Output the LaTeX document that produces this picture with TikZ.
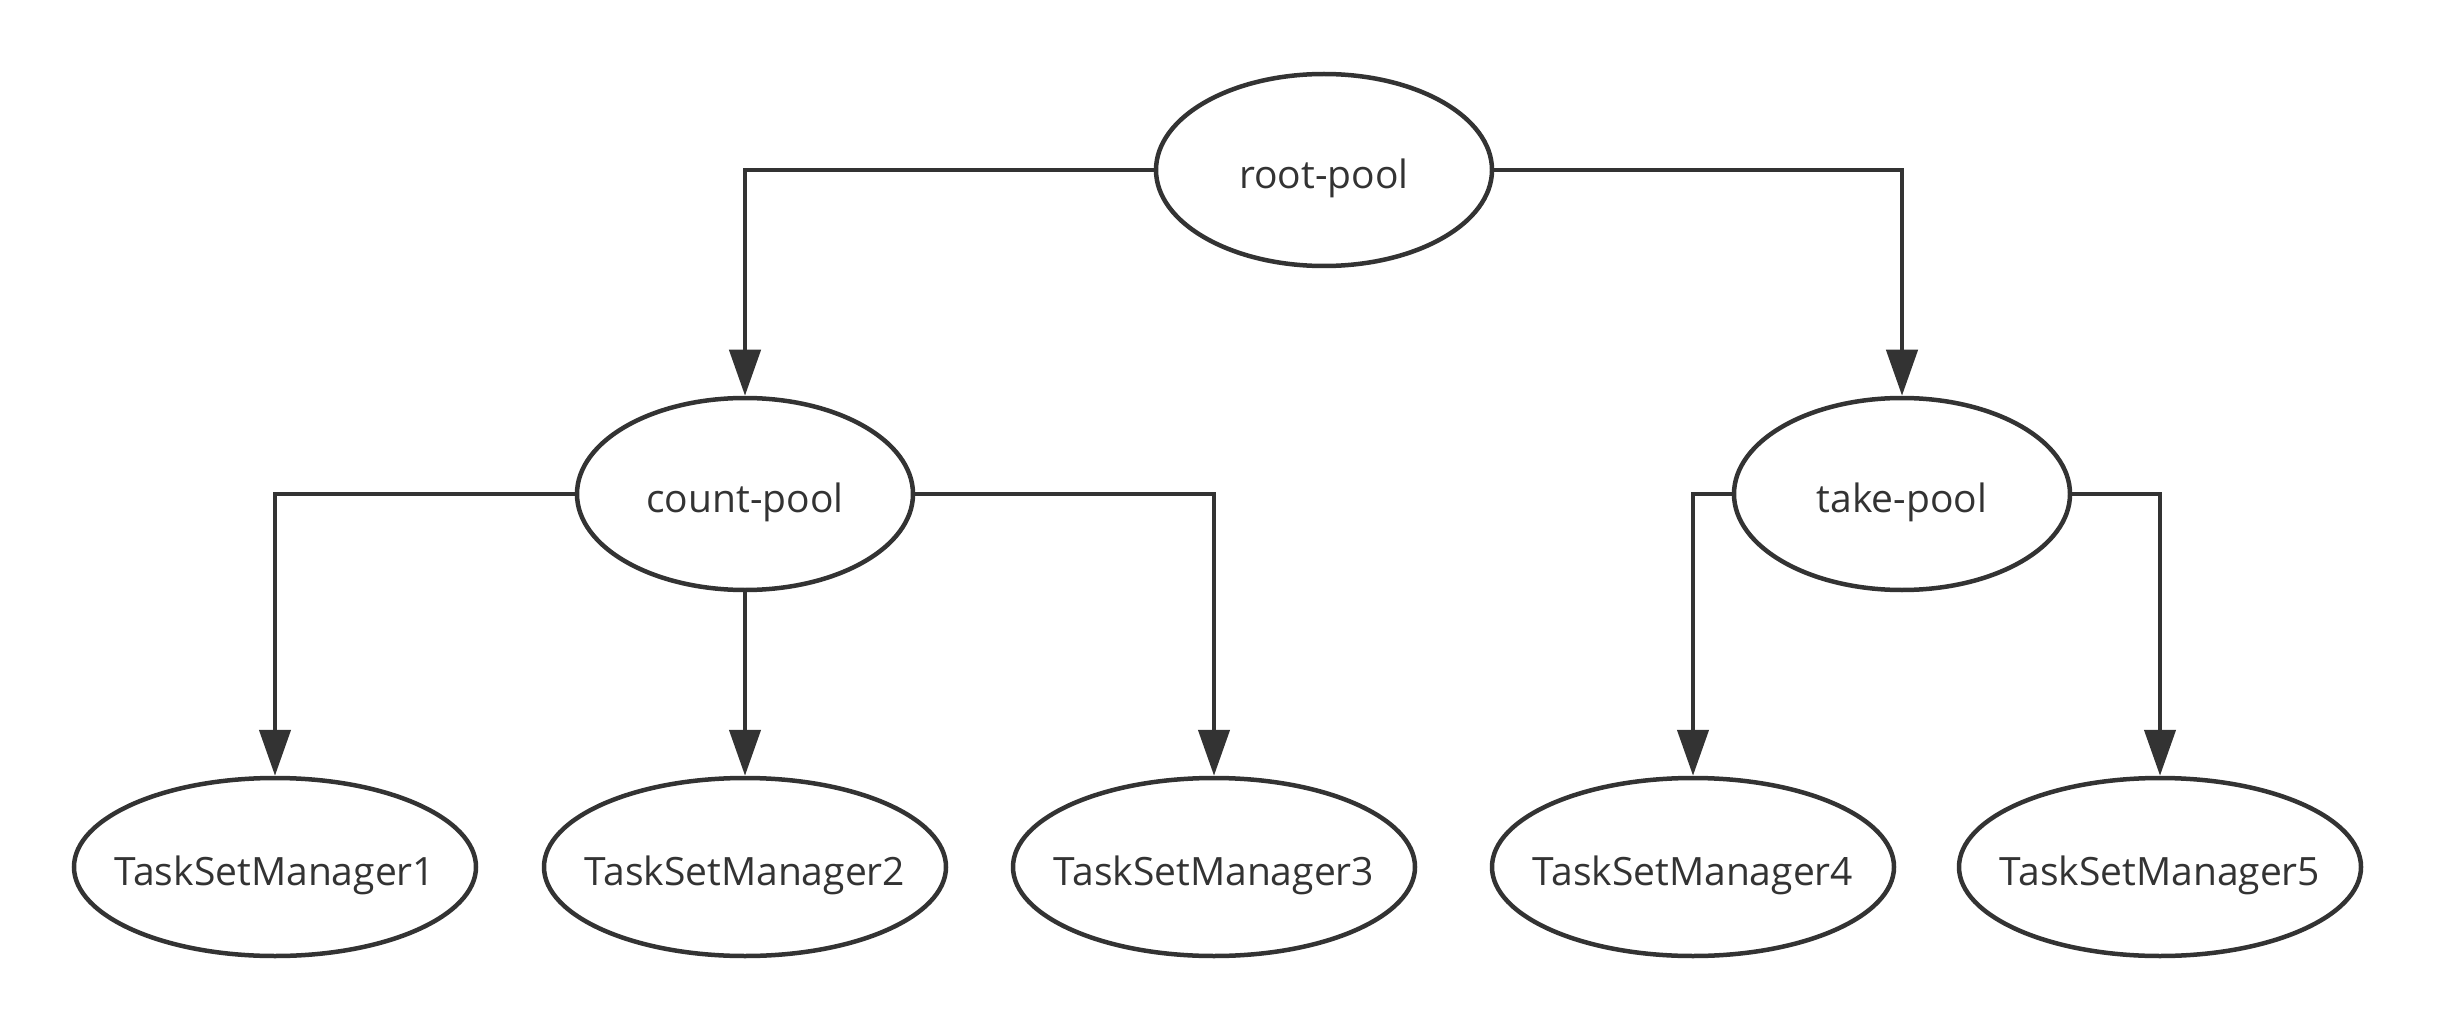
\documentclass[tikz,border=0pt]{standalone}
\usepackage{fontspec}
\setmainfont{Open Sans}
\usetikzlibrary{arrows.meta,shapes.geometric}
\definecolor{ink}{HTML}{333333}
\begin{document}
\begin{tikzpicture}[x=1pt,y=-1pt,
  lbl/.style={draw=ink,line width=4.5pt,ellipse,inner xsep=-40pt,inner ysep=0pt,text height=46pt,text depth=9pt,text=ink,font=\fontsize{39}{46}\selectfont},
  pool/.style={lbl,minimum width=336pt,minimum height=192pt},
  mgr/.style={lbl,minimum width=402pt,minimum height=178pt},
  conn/.style={draw=ink,line width=4.5pt,-{Triangle[length=46pt,width=31pt]}}]
\useasboundingbox (0,0) rectangle (2437,1032);
\node[pool] (root) at (1324,170) {root-pool};
\node[pool] (count) at (745,494) {count-pool};
\node[pool] (take) at (1902,494) {take-pool};
\node[mgr] (m1) at (275,867) {TaskSetManager1};
\node[mgr] (m2) at (745,867) {TaskSetManager2};
\node[mgr] (m3) at (1214,867) {TaskSetManager3};
\node[mgr] (m4) at (1693,867) {TaskSetManager4};
\node[mgr] (m5) at (2160,867) {TaskSetManager5};
\draw[conn] (root.west) -| (count.north);
\draw[conn] (root.east) -| (take.north);
\draw[conn] (count.west) -| (m1.north);
\draw[conn] (count.south) -- (m2.north);
\draw[conn] (count.east) -| (m3.north);
\draw[conn] (take.west) -| (m4.north);
\draw[conn] (take.east) -| (m5.north);
\end{tikzpicture}
\end{document}
